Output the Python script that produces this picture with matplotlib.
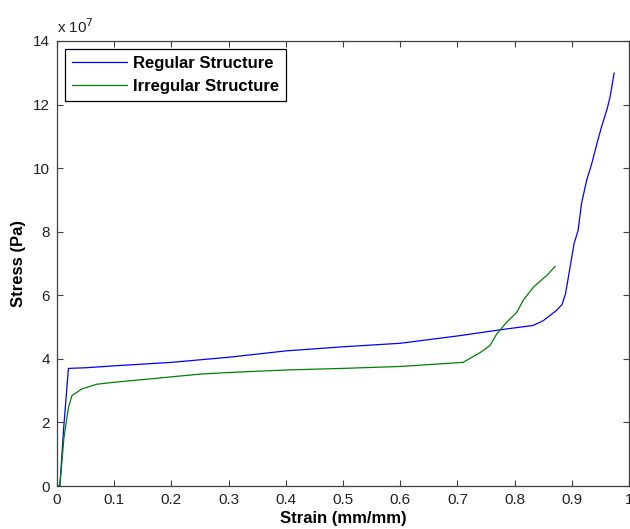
import matplotlib
matplotlib.use("Agg")
import matplotlib.pyplot as plt

plt.rcParams['font.family'] = ['Liberation Sans', 'DejaVu Sans']

# Stress values in units of 1e7 Pa
reg_strain = [0.0, 0.005, 0.012, 0.02, 0.05, 0.1, 0.2, 0.3, 0.4, 0.5, 0.6, 0.7, 0.777,
              0.832, 0.85, 0.873, 0.883, 0.889, 0.894, 0.899, 0.904, 0.911, 0.917,
              0.926, 0.935, 0.944, 0.952, 0.962, 0.967, 0.974]
reg_stress = [0.0, 0.0, 1.9, 3.7, 3.72, 3.78, 3.89, 4.05, 4.25, 4.38, 4.49, 4.72, 4.92,
              5.05, 5.2, 5.52, 5.71, 6.05, 6.57, 7.1, 7.63, 8.04, 8.89,
              9.62, 10.15, 10.78, 11.3, 11.88, 12.25, 12.99]

irr_strain = [0.0, 0.005, 0.012, 0.02, 0.026, 0.043, 0.069, 0.098, 0.163, 0.25, 0.3,
              0.4, 0.5, 0.6, 0.71, 0.74, 0.757, 0.769, 0.786, 0.804, 0.815, 0.833,
              0.856, 0.871]
irr_stress = [0.0, 0.0, 1.5, 2.47, 2.84, 3.05, 3.2, 3.26, 3.37, 3.52, 3.57,
              3.65, 3.7, 3.76, 3.89, 4.2, 4.42, 4.79, 5.15, 5.47, 5.84, 6.26,
              6.62, 6.91]

xticks = [0, 0.1, 0.2, 0.3, 0.4, 0.5, 0.6, 0.7, 0.8, 0.9, 1]
xticklabels = ['0', '0.1', '0.2', '0.3', '0.4', '0.5', '0.6', '0.7', '0.8', '0.9', '1']
yticks = [0, 2, 4, 6, 8, 10, 12, 14]

fig = plt.figure(figsize=(6.3, 5.29), dpi=100)
ax = fig.add_axes([57/630, 43/529, 572/630, 445/529])

ax.plot(reg_strain, reg_stress, color=(0, 0, 1), lw=0.9, label='Regular Structure')
ax.plot(irr_strain, irr_stress, color=(0, 0.5, 0), lw=0.9, label='Irregular Structure')

ax.set_xlim(0, 1)
ax.set_ylim(0, 14)
ax.set_xticks(xticks)
ax.set_xticklabels(xticklabels)
ax.set_yticks(yticks)
ax.tick_params(direction='in', top=True, right=True, labelsize=11, length=4,
               color='#404040', labelcolor='#202020', pad=5)
for s in ax.spines.values():
    s.set_color('#404040')
    s.set_linewidth(0.9)

ax.set_xlabel('Strain (mm/mm)', fontweight='bold', fontsize=12, labelpad=3)
ax.set_ylabel('Stress (Pa)', fontweight='bold', fontsize=12, labelpad=5)

ax.text(0.0, 1.012, 'x 10$^{7}$', transform=ax.transAxes, fontsize=11,
        color='#202020', ha='left', va='bottom')

leg = ax.legend(loc='upper left', fancybox=False, edgecolor='black', framealpha=1,
                prop={'weight': 'bold', 'size': 12}, handlelength=3.3,
                borderaxespad=0.45, borderpad=0.45, labelspacing=0.45, handletextpad=0.35)
leg.get_frame().set_linewidth(0.9)

fig.savefig('out.png', dpi=100)
